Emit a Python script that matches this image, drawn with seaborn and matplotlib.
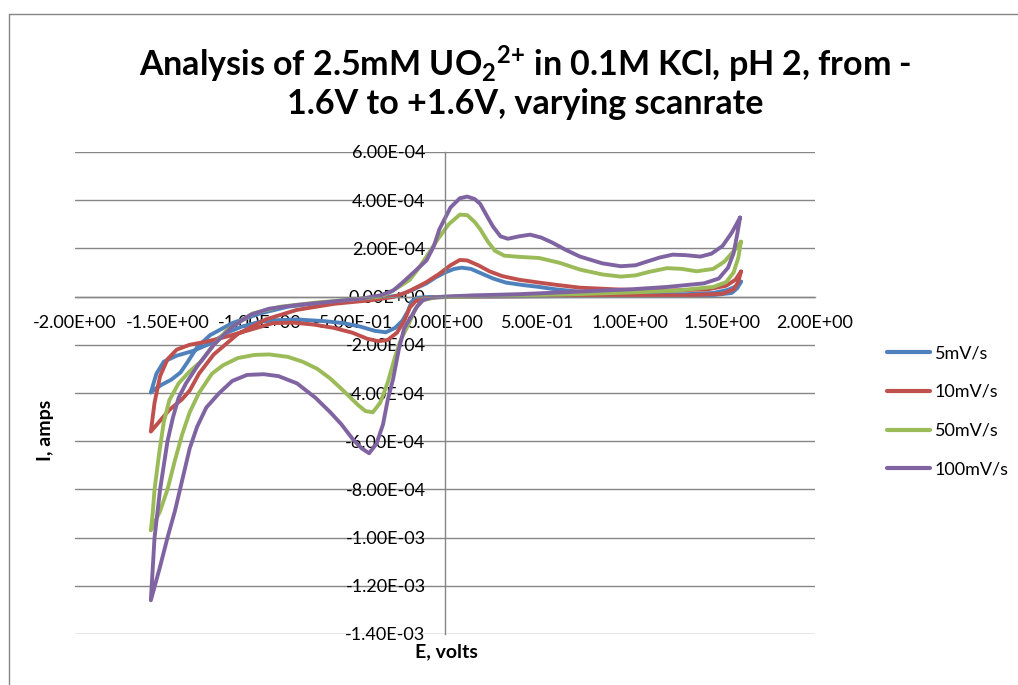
import matplotlib
matplotlib.use("Agg")
import matplotlib.pyplot as plt
import seaborn as sns
import pandas as pd
from matplotlib.lines import Line2D
from matplotlib.ticker import FixedLocator, FuncFormatter

# ---------------- data ----------------
series_names = ["5mV/s", "10mV/s", "50mV/s", "100mV/s"]
series_colors = ["#4F81BD", "#C0504D", "#9BBB59", "#8064A2"]

e_5 = [1.60, 1.58, 1.55, 1.45, 1.2, 0.8, 0.4, 0.1, -0.1, -0.15, -0.18, -0.2, -0.23, -0.27, -0.32,
       -0.38, -0.46, -0.55, -0.65, -0.8, -0.92, -1.0, -1.1, -1.18, -1.27, -1.36, -1.45, -1.52, -1.56, -1.59,
       -1.57, -1.53, -1.48, -1.43, -1.39, -1.34, -1.27, -1.15, -1.0, -0.85, -0.7, -0.5, -0.35, -0.25,
       -0.17, -0.1, -0.05, 0.0, 0.05, 0.09, 0.14, 0.2, 0.26, 0.33, 0.42, 0.5, 0.6, 0.73, 0.9, 1.1, 1.3,
       1.45, 1.53, 1.58, 1.60]
i_5 = [0.62e-4, 0.35e-4, 0.15e-4, 0.06e-4, 0.03e-4, 0.02e-4, 0.01e-4, 0.0, -0.02e-4, -0.05e-4, -0.2e-4,
       -0.6e-4, -1.0e-4, -1.3e-4, -1.48e-4, -1.42e-4, -1.24e-4, -1.1e-4, -1.02e-4, -0.95e-4, -0.98e-4,
       -1.04e-4, -1.25e-4, -1.5e-4, -1.95e-4, -2.25e-4, -2.45e-4, -2.7e-4, -3.2e-4, -3.98e-4,
       -3.85e-4, -3.65e-4, -3.45e-4, -3.15e-4, -2.7e-4, -2.1e-4, -1.6e-4, -1.1e-4, -0.7e-4, -0.42e-4,
       -0.28e-4, -0.15e-4, -0.05e-4, 0.05e-4, 0.3e-4, 0.55e-4, 0.8e-4, 1.0e-4, 1.15e-4, 1.2e-4, 1.15e-4,
       0.95e-4, 0.75e-4, 0.58e-4, 0.48e-4, 0.41e-4, 0.3e-4, 0.2e-4, 0.12e-4, 0.1e-4, 0.1e-4, 0.15e-4,
       0.28e-4, 0.45e-4, 0.62e-4]

e_10 = [1.60, 1.585, 1.56, 1.5, 1.3, 0.9, 0.5, 0.1, -0.05, -0.12, -0.16, -0.19, -0.22, -0.26, -0.31,
        -0.36, -0.42, -0.5, -0.6, -0.71, -0.82, -0.93, -1.05, -1.18, -1.29, -1.38, -1.45, -1.5, -1.54,
        -1.57, -1.59,
        -1.54, -1.49, -1.42, -1.38, -1.33, -1.25, -1.12, -0.97, -0.8, -0.6, -0.4, -0.28, -0.2, -0.1,
        -0.03, 0.03, 0.08, 0.12, 0.18, 0.24, 0.31, 0.4, 0.51, 0.62, 0.73, 0.95, 1.2, 1.42, 1.52, 1.57, 1.60]
i_10 = [1.04e-4, 0.6e-4, 0.3e-4, 0.12e-4, 0.05e-4, 0.03e-4, 0.02e-4, 0.0, -0.03e-4, -0.08e-4, -0.2e-4,
        -0.45e-4, -1.0e-4, -1.5e-4, -1.8e-4, -1.85e-4, -1.75e-4, -1.5e-4, -1.3e-4, -1.16e-4, -1.08e-4,
        -1.1e-4, -1.37e-4, -1.66e-4, -1.87e-4, -2.0e-4, -2.2e-4, -2.6e-4, -3.3e-4, -4.4e-4, -5.6e-4,
        -5.15e-4, -4.7e-4, -4.25e-4, -3.9e-4, -3.2e-4, -2.4e-4, -1.55e-4, -0.95e-4, -0.55e-4, -0.3e-4,
        -0.15e-4, -0.02e-4, 0.2e-4, 0.6e-4, 0.95e-4, 1.3e-4, 1.52e-4, 1.5e-4, 1.3e-4, 1.05e-4, 0.85e-4,
        0.7e-4, 0.58e-4, 0.47e-4, 0.37e-4, 0.29e-4, 0.25e-4, 0.3e-4, 0.45e-4, 0.7e-4, 1.04e-4]

e_50 = [1.60, 1.585, 1.56, 1.52, 1.45, 1.25, 1.0, 0.7, 0.4, 0.1, -0.05, -0.12, -0.16, -0.2, -0.24,
        -0.27, -0.31, -0.35, -0.39, -0.43, -0.47, -0.55, -0.62, -0.69, -0.77, -0.85, -0.95, -1.03, -1.12,
        -1.2, -1.26, -1.33, -1.38, -1.42, -1.46, -1.5, -1.54, -1.59,
        -1.58, -1.57, -1.545, -1.52, -1.49, -1.44, -1.38, -1.32, -1.25, -1.18, -1.04, -0.89, -0.7, -0.5,
        -0.35, -0.3, -0.25, -0.19, -0.14, -0.1, -0.04, 0.02, 0.08, 0.12, 0.16, 0.19, 0.23, 0.27, 0.32,
        0.4, 0.51, 0.62, 0.73, 0.85, 0.95, 1.03, 1.1, 1.2, 1.28, 1.36, 1.45, 1.51, 1.55, 1.58, 1.60]
i_50 = [2.28e-4, 1.6e-4, 1.0e-4, 0.6e-4, 0.4e-4, 0.25e-4, 0.17e-4, 0.1e-4, 0.05e-4, 0.0, -0.03e-4,
        -0.15e-4, -0.5e-4, -1.2e-4, -1.8e-4, -2.5e-4, -3.57e-4, -4.4e-4, -4.8e-4, -4.75e-4, -4.5e-4,
        -3.9e-4, -3.4e-4, -3.0e-4, -2.7e-4, -2.5e-4, -2.4e-4, -2.42e-4, -2.55e-4, -2.85e-4, -3.2e-4,
        -4.0e-4, -4.8e-4, -5.7e-4, -6.8e-4, -8.0e-4, -8.9e-4, -9.7e-4,
        -9.0e-4, -8.0e-4, -6.5e-4, -5.2e-4, -4.3e-4, -3.6e-4, -3.1e-4, -2.7e-4, -2.0e-4, -1.4e-4,
        -0.7e-4, -0.42e-4, -0.25e-4, -0.12e-4, 0.0, 0.17e-4, 0.4e-4, 0.7e-4, 1.2e-4, 1.66e-4, 2.37e-4,
        3.0e-4, 3.4e-4, 3.38e-4, 3.1e-4, 2.8e-4, 2.3e-4, 1.9e-4, 1.7e-4, 1.65e-4, 1.6e-4, 1.4e-4,
        1.12e-4, 0.92e-4, 0.83e-4, 0.88e-4, 1.02e-4, 1.18e-4, 1.15e-4, 1.05e-4, 1.15e-4, 1.45e-4,
        1.8e-4, 2.05e-4, 2.28e-4]

e_100 = [1.595, 1.58, 1.56, 1.53, 1.48, 1.4, 1.2, 1.0, 0.7, 0.4, 0.15, 0.0, -0.08, -0.12, -0.15, -0.18,
         -0.22, -0.25, -0.28, -0.31, -0.335, -0.37, -0.41, -0.45, -0.5, -0.56, -0.62, -0.7, -0.8, -0.9,
         -0.98, -1.07, -1.15, -1.22, -1.29, -1.34, -1.38, -1.42, -1.46, -1.5, -1.54, -1.59,
         -1.58, -1.57, -1.555, -1.54, -1.52, -1.5, -1.47, -1.44, -1.4, -1.34, -1.25, -1.15, -1.05, -0.95,
         -0.8, -0.6, -0.45, -0.35, -0.28, -0.23, -0.17, -0.1, -0.06, -0.03, 0.03, 0.08, 0.12, 0.16, 0.19,
         0.23, 0.26, 0.3, 0.34, 0.4, 0.46, 0.52, 0.58, 0.65, 0.73, 0.85, 0.95, 1.03, 1.09, 1.16, 1.23,
         1.3, 1.38, 1.44, 1.5, 1.55, 1.595]
i_100 = [3.28e-4, 2.6e-4, 1.8e-4, 1.2e-4, 0.75e-4, 0.55e-4, 0.4e-4, 0.3e-4, 0.2e-4, 0.1e-4, 0.05e-4,
         0.0, -0.05e-4, -0.15e-4, -0.4e-4, -0.8e-4, -1.3e-4, -2.2e-4, -3.4e-4, -4.3e-4, -5.3e-4, -6.1e-4,
         -6.5e-4, -6.3e-4, -5.9e-4, -5.3e-4, -4.8e-4, -4.2e-4, -3.6e-4, -3.3e-4, -3.22e-4, -3.25e-4,
         -3.5e-4, -4.0e-4, -4.6e-4, -5.4e-4, -6.3e-4, -7.6e-4, -8.9e-4, -1.0e-3, -1.12e-3, -1.26e-3,
         -1.13e-3, -1.0e-3, -9.0e-4, -8.0e-4, -7.0e-4, -6.0e-4, -5.0e-4, -4.2e-4, -3.6e-4, -2.9e-4,
         -2.0e-4, -1.25e-4, -0.75e-4, -0.5e-4, -0.35e-4, -0.2e-4, -0.08e-4, 0.05e-4, 0.25e-4, 0.58e-4,
         1.0e-4, 1.5e-4, 2.1e-4, 2.8e-4, 3.7e-4, 4.08e-4, 4.15e-4, 4.05e-4, 3.85e-4, 3.3e-4, 2.9e-4,
         2.5e-4, 2.4e-4, 2.5e-4, 2.57e-4, 2.45e-4, 2.24e-4, 1.95e-4, 1.66e-4, 1.38e-4, 1.26e-4, 1.3e-4,
         1.45e-4, 1.62e-4, 1.74e-4, 1.72e-4, 1.66e-4, 1.78e-4, 2.1e-4, 2.65e-4, 3.28e-4]

x_ticks = [-2.0, -1.5, -1.0, -0.5, 0.0, 0.5, 1.0, 1.5, 2.0]
y_ticks = [-1.4e-3, -1.2e-3, -1.0e-3, -8e-4, -6e-4, -4e-4, -2e-4, 0.0, 2e-4, 4e-4, 6e-4]

title_text = ("Analysis of 2.5mM UO$_2$$^{2{+}}$ in 0.1M KCl, pH 2, from -\n"
              "1.6V to +1.6V, varying scanrate")
x_label = "E, volts"
y_label = "I, amps"

# ---------------- style ----------------
sns.set_style("white")
plt.rcParams["font.family"] = ["Lato", "DejaVu Sans"]
plt.rcParams["text.color"] = "black"
plt.rcParams["axes.labelcolor"] = "black"
plt.rcParams["xtick.color"] = "black"
plt.rcParams["ytick.color"] = "black"
plt.rcParams["mathtext.fontset"] = "custom"
plt.rcParams["mathtext.rm"] = "Lato:bold"
plt.rcParams["mathtext.default"] = "rm"

W, H = 1018, 685
fig = plt.figure(figsize=(W / 100, H / 100), dpi=100)
ax = fig.add_axes([75 / W, 1 - 634 / H, (815 - 75) / W, (634 - 152) / H])

grey = "#868686"
all_e = [e_5, e_10, e_50, e_100]
all_i = [i_5, i_10, i_50, i_100]
for name, col, ee, ii in zip(series_names, series_colors, all_e, all_i):
    df = pd.DataFrame({"E": ee, "I": ii})
    sns.lineplot(data=df, x="E", y="I", sort=False, estimator=None, color=col, lw=2.8,
                 label=name, ax=ax, solid_joinstyle="round", solid_capstyle="round")

ax.set_xlim(-2.0, 2.0)
ax.set_ylim(-1.4e-3, 6e-4)
ax.xaxis.set_major_locator(FixedLocator(x_ticks))
ax.yaxis.set_major_locator(FixedLocator(y_ticks))
fmt = FuncFormatter(lambda v, p: "{:.2E}".format(0.0 if abs(v) < 1e-12 else v))
ax.xaxis.set_major_formatter(fmt)
ax.yaxis.set_major_formatter(fmt)

for s in ["top", "right"]:
    ax.spines[s].set_visible(False)
ax.spines["left"].set_position(("data", 0))
ax.spines["bottom"].set_position(("data", 0))
ax.spines["left"].set_color(grey)
ax.spines["bottom"].set_color(grey)
ax.spines["left"].set_linewidth(1.0)
ax.spines["bottom"].set_linewidth(1.0)
ax.grid(axis="y", color=grey, lw=1.0)
ax.grid(axis="x", visible=False)
ax.set_axisbelow(True)
ax.tick_params(axis="both", length=0, labelsize=13, labelcolor="#000000")
ax.tick_params(axis="x", pad=13)
ax.tick_params(axis="y", pad=14)
ax.set_xlabel("")
ax.set_ylabel("")

fig.text(446 / W, 1 - 652 / H, x_label, ha="center", va="center", fontsize=14, fontweight="bold")
fig.text(45 / W, 1 - 430 / H, y_label, ha="center", va="center", rotation=90, fontsize=14,
         fontweight="bold")

fig.text(525 / W, 1 - 82 / H, title_text, ha="center", va="center", fontsize=24.5, fontweight="bold",
         linespacing=1.15)

leg = ax.legend(loc="upper left", bbox_to_anchor=(887 / W, 1 - 345 / H), bbox_transform=fig.transFigure,
                frameon=False, fontsize=13, handlelength=2.4, handletextpad=0.25, labelspacing=1.27,
                borderaxespad=0, borderpad=0)
for ln in leg.get_lines():
    ln.set_linewidth(3)

# chart border
fig.add_artist(Line2D([9 / W, 9 / W], [0, 1 - 14 / H], transform=fig.transFigure, color=grey, lw=1))
fig.add_artist(Line2D([9 / W, 1], [1 - 14 / H, 1 - 14 / H], transform=fig.transFigure, color=grey, lw=1))

fig.savefig("out.png", dpi=100)
